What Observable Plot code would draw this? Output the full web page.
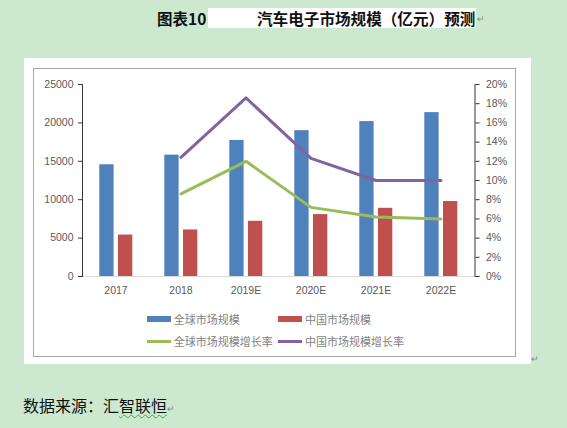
<!DOCTYPE html>
<html><head><meta charset="utf-8">
<script src="https://cdn.jsdelivr.net/npm/d3@7"></script>
<script src="https://cdn.jsdelivr.net/npm/@observablehq/plot@0.6"></script>
<style>
html,body{margin:0;padding:0}
body{width:567px;height:428px;background:#cce8cf;position:relative;overflow:hidden;font-family:"Noto Sans CJK SC",sans-serif}
.abs{position:absolute}
#t1{left:157px;top:7px;font-size:15.5px;font-weight:bold;color:#111;line-height:22px;white-space:nowrap}
#tbox{left:208px;top:8px;width:268px;height:20px;background:#fff}
#t2{left:257px;top:7px;font-size:15.6px;font-weight:bold;color:#111;line-height:22px;white-space:nowrap;letter-spacing:0}
.ret{color:#888;font-size:9px;line-height:10px}
#panel{left:24px;top:58px;width:507px;height:306px;background:#fff}
#box{left:33px;top:68px;width:481px;height:287px;border:1px solid #a6a6a6}
#chart{left:33px;top:68px}
.lg{font-size:11px;color:#7f7f7f;line-height:14px;white-space:nowrap}
.sw{position:absolute}
#src{left:23px;top:395px;font-size:16px;color:#111;line-height:20px;white-space:nowrap}
#src .u{text-decoration:underline wavy #3cb043;text-decoration-thickness:1px;text-underline-offset:2px}
</style></head><body>
<div class="abs" id="tbox"></div>
<div class="abs" id="t1">图表10</div>
<div class="abs" id="t2">汽车电子市场规模（亿元）预测</div>
<div class="abs ret" style="left:477px;top:14px">↵</div>
<div class="abs" id="panel"></div>
<div class="abs" id="box"></div>
<div class="abs" id="chart"></div>
<div id="legend"></div>
<div class="abs ret" style="left:531px;top:354px">↵</div>
<div class="abs" id="src">数据来源：汇<span class="u">智联恒</span><span style="color:#888;font-size:9px">↵</span></div>
<script>
const years = ["2017","2018","2019E","2020E","2021E","2022E"];
const globalSize = [14550,15800,17720,18990,20170,21340];
const chinaSize = [5400,6060,7190,8060,8880,9760];
const globalRate = [null,8.6,12.0,7.2,6.2,6.0];
const chinaRate = [null,12.4,18.6,12.3,10.0,10.0];
const leftTicks = [0,5000,10000,15000,20000,25000];
const rightTicks = [0,2,4,6,8,10,12,14,16,18,20];
const seriesNames = ["全球市场规模","中国市场规模","全球市场规模增长率","中国市场规模增长率"];
const colors = ["#4f81bd","#c0504d","#9bbb59","#8064a2"];

const k = 25000/20; // right axis percent -> left axis units
const rows = years.map((y,i)=>({year:y, g:globalSize[i], c:chinaSize[i], gr:globalRate[i], cr:chinaRate[i]}));
const rateRows = rows.filter(d=>d.gr!=null);

const chart = Plot.plot({
  width:483, height:235,
  marginLeft:49, marginRight:41.5, marginTop:16, marginBottom:27,
  style:{fontFamily:"'Liberation Sans', Arial, sans-serif", fontSize:"10.5px", background:"transparent", color:"#595959"},
  x:{type:"band", domain:years, padding:0},
  y:{domain:[0,25000]},
  marks:[
    Plot.ruleY([0],{stroke:"#d9d9d9"}),
    Plot.barY(rows,{x:"year", y:"g", fill:colors[0], insetLeft:16.3, insetRight:34.4}),
    Plot.barY(rows,{x:"year", y:"c", fill:colors[1], insetLeft:35, insetRight:15.7}),
    Plot.line(rateRows,{x:"year", y:d=>d.gr*k, stroke:colors[2], strokeWidth:3}),
    Plot.line(rateRows,{x:"year", y:d=>d.cr*k, stroke:colors[3], strokeWidth:3}),
    Plot.axisY({ticks:leftTicks, tickFormat:d=>String(d), tickSize:4, tickPadding:5, stroke:"#333", fill:"#595959", label:null}),
    Plot.frame({anchor:"left", stroke:"#333"}),
    Plot.axisY({anchor:"right", ticks:rightTicks.map(p=>p*k), tickFormat:d=>(d/k)+"%", tickSize:4, tickPadding:7, stroke:"#333", fill:"#595959", label:null}),
    Plot.frame({anchor:"right", stroke:"#333"}),
    Plot.axisX({tickSize:0, tickPadding:10, fill:"#595959", label:null})
  ]
});
document.getElementById("chart").appendChild(chart);

// legend
const lg = document.getElementById("legend");
const pos = [[146.7,319,true],[278,319,true],[146.7,341.5,false],[278,341.5,false]];
seriesNames.forEach((n,i)=>{
  const [x,y,isBar] = pos[i];
  const sw = document.createElement("div");
  sw.className="abs sw";
  const h = isBar?6:3;
  sw.style.cssText=`left:${x}px;top:${y-h/2}px;width:24px;height:${h}px;background:${colors[i]}`;
  lg.appendChild(sw);
  const t = document.createElement("div");
  t.className="abs lg";
  t.style.left=(x+27)+"px"; t.style.top=(y-7.5)+"px";
  t.textContent=n;
  lg.appendChild(t);
});
</script>
</body></html>
